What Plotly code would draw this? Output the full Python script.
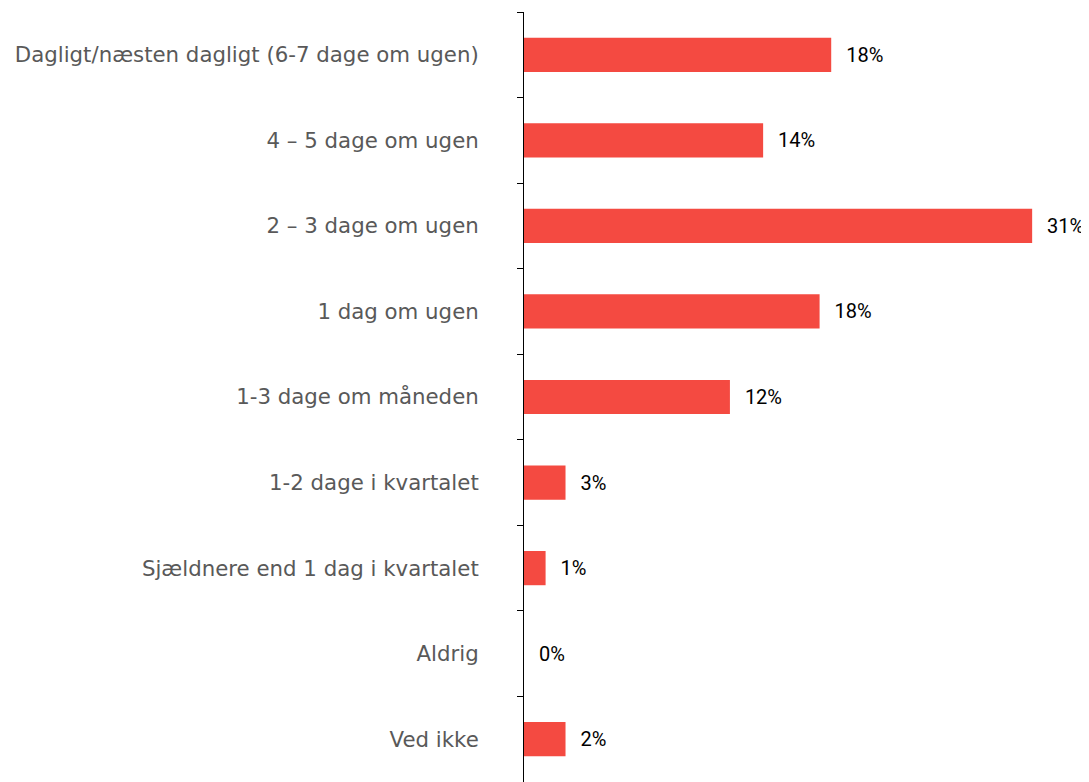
import plotly.graph_objects as go

categories = [
    "Dagligt/næsten dagligt (6-7 dage om ugen)",
    "4 – 5 dage om ugen",
    "2 – 3 dage om ugen",
    "1 dag om ugen",
    "1-3 dage om måneden",
    "1-2 dage i kvartalet",
    "Sjældnere end 1 dag i kvartalet",
    "Aldrig",
    "Ved ikke",
]
values = [18.5, 14.4, 30.6, 17.8, 12.4, 2.5, 1.3, 0, 2.5]
labels = ["18%", "14%", "31%", "18%", "12%", "3%", "1%", "0%", "2%"]

fig = go.Figure(
    go.Bar(
        y=categories,
        x=values,
        orientation="h",
        marker=dict(color="#F44A41", line=dict(width=0)),
        width=0.4,
        text=["\u00a0\u00a0\u200a" + t for t in labels],
        textposition="outside",
        textfont=dict(family="Roboto", size=20, color="#000000"),
        cliponaxis=False,
    )
)

fig.update_layout(
    width=1081,
    height=774,
    margin=dict(l=516, r=17, t=4, b=0),
    plot_bgcolor="white",
    paper_bgcolor="white",
    showlegend=False,
    xaxis=dict(range=[0, 33], visible=False, showgrid=False, zeroline=False),
    yaxis=dict(
        autorange="reversed",
        type="category",
        showline=True,
        linecolor="#000000",
        linewidth=1,
        ticks="outside",
        ticklen=6,
        tickcolor="#000000",
        tickson="boundaries",
        ticklabelstandoff=40,
        tickfont=dict(family="DejaVu Sans", size=21.3, color="#595959"),
        showgrid=False,
    ),
)

fig.write_html("out.html")
